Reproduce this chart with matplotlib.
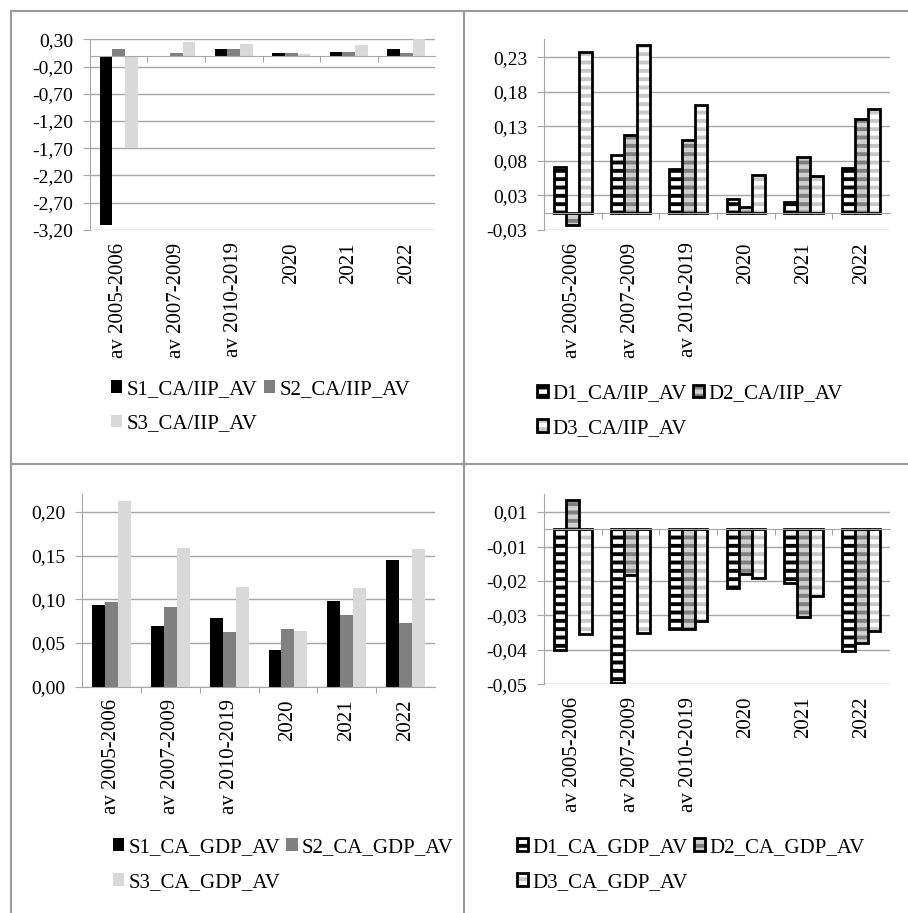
import numpy as np
import matplotlib
matplotlib.use("Agg")
import matplotlib.pyplot as plt
from matplotlib.lines import Line2D
from matplotlib.legend_handler import HandlerTuple

plt.rcParams['font.family'] = ['Liberation Serif', 'DejaVu Serif']
plt.rcParams['hatch.linewidth'] = 2.8

# categories shared by all four panels
categories = ["av 2005-2006", "av 2007-2009", "av 2010-2019", "2020", "2021", "2022"]

# top left: S series, CA/IIP
s_iip_labels = ["S1_CA/IIP_AV", "S2_CA/IIP_AV", "S3_CA/IIP_AV"]
s1_iip = [-3.10, -0.03, 0.115, 0.04, 0.07, 0.115]
s2_iip = [0.115, 0.04, 0.115, 0.04, 0.07, 0.04]
s3_iip = [-1.69, 0.255, 0.21, 0.03, 0.19, 0.30]
tl_yticks = [0.30, -0.20, -0.70, -1.20, -1.70, -2.20, -2.70, -3.20]
tl_ylabels = ["0,30", "-0,20", "-0,70", "-1,20", "-1,70", "-2,20", "-2,70", "-3,20"]

# top right: D series, CA/IIP
d_iip_labels = ["D1_CA/IIP_AV", "D2_CA/IIP_AV", "D3_CA/IIP_AV"]
d1_iip = [0.066, 0.083, 0.063, 0.020, 0.015, 0.065]
d2_iip = [-0.018, 0.112, 0.105, 0.008, 0.081, 0.136]
d3_iip = [0.232, 0.242, 0.156, 0.055, 0.053, 0.150]
tr_yticks = [-0.025, 0.025, 0.075, 0.125, 0.175, 0.225]
tr_ylabels = ["-0,03", "0,03", "0,08", "0,13", "0,18", "0,23"]

# bottom left: S series, CA/GDP
s_gdp_labels = ["S1_CA_GDP_AV", "S2_CA_GDP_AV", "S3_CA_GDP_AV"]
s1_gdp = [0.094, 0.070, 0.079, 0.042, 0.098, 0.145]
s2_gdp = [0.097, 0.091, 0.063, 0.066, 0.082, 0.073]
s3_gdp = [0.213, 0.159, 0.114, 0.064, 0.113, 0.157]
bl_yticks = [0.00, 0.05, 0.10, 0.15, 0.20]
bl_ylabels = ["0,00", "0,05", "0,10", "0,15", "0,20"]

# bottom right: D series, CA/GDP
d_gdp_labels = ["D1_CA_GDP_AV", "D2_CA_GDP_AV", "D3_CA_GDP_AV"]
d1_gdp = [-0.0350, -0.0446, -0.0289, -0.0171, -0.0155, -0.0354]
d2_gdp = [0.0085, -0.0134, -0.0289, -0.0129, -0.0255, -0.0331]
d3_gdp = [-0.0304, -0.0302, -0.0267, -0.0140, -0.0195, -0.0294]
br_yticks = [-0.045, -0.035, -0.025, -0.015, -0.005, 0.005]
br_ylabels = ["-0,05", "-0,04", "-0,03", "-0,02", "-0,01", "0,01"]

GRID = '#a6a6a6'
W = 0.22
x = np.arange(len(categories))
offsets = [-W, 0, W]

s_colors = ['#000000', '#808080', '#d9d9d9']
d_faces = ['#ffffff', '#d0d0d0', '#ffffff']
d_hatch = ['#000000', '#7f7f7f', '#c8c8c8']

fig = plt.figure(figsize=(9.08, 9.13), dpi=100)


def setup(rect, ylim, yticks, ylabels):
    ax = fig.add_axes(rect)
    ax.set_xlim(-0.5, len(categories) - 0.5)
    ax.set_ylim(*ylim)
    for s in ['top', 'right']:
        ax.spines[s].set_visible(False)
    ax.spines['left'].set_color(GRID)
    ax.spines['bottom'].set_color(GRID)
    ax.spines['bottom'].set_position(('data', 0))
    ax.set_yticks(yticks, labels=ylabels)
    ax.yaxis.grid(True, color=GRID, linewidth=1)
    ax.set_axisbelow(True)
    ax.tick_params(axis='y', length=5, color=GRID, pad=7, labelsize=14)
    ax.set_xticks(np.arange(0.5, len(categories) - 0.5), labels=[])
    ax.tick_params(axis='x', length=4, color=GRID, direction='out')
    # category labels along the bottom edge
    sec = ax.secondary_xaxis('bottom')
    sec.spines['bottom'].set_visible(False)
    sec.set_xticks(x, labels=categories, rotation=90, fontsize=15)
    sec.tick_params(length=0, pad=9)
    return ax


def s_bars(ax, series):
    handles = []
    for i, vals in enumerate(series):
        b = ax.bar(x + offsets[i], vals, W, color=s_colors[i], linewidth=0)
        handles.append(b.patches[0])
    return handles


def d_bars(ax, series):
    handles = []
    for i, vals in enumerate(series):
        f = ax.bar(x + offsets[i], vals, W, color=d_faces[i], edgecolor=d_hatch[i],
                   hatch='--', linewidth=0)
        o = ax.bar(x + offsets[i], vals, W, fill=False, edgecolor='black', linewidth=2)
        handles.append((f.patches[0], o.patches[0]))
    return handles


def legend(handles, labels, left, top):
    # legend fills columns first, so reorder to get S1 S2 / S3 rows
    order = [0, 2, 1]
    fig.legend([handles[i] for i in order], [labels[i] for i in order], ncol=2,
               loc='upper left', bbox_to_anchor=(left, top),
               frameon=False, fontsize=15, handlelength=0.55, handleheight=0.55,
               handletextpad=0.2, columnspacing=0.3, labelspacing=0.75,
               borderpad=0, borderaxespad=0,
               handler_map={tuple: HandlerTuple(ndivide=1, pad=0)})


ax1 = setup([0.0991, 0.7481, 0.3800, 0.2089], (-3.2, 0.3), tl_yticks, tl_ylabels)
h = s_bars(ax1, [s1_iip, s2_iip, s3_iip])
legend(h, s_iip_labels, 0.122, 0.584)

ax2 = setup([0.5991, 0.7481, 0.3811, 0.2089], (-0.025, 0.251), tr_yticks, tr_ylabels)
h = d_bars(ax2, [d1_iip, d2_iip, d3_iip])
legend(h, d_iip_labels, 0.591, 0.579)

ax3 = setup([0.0903, 0.2479, 0.3888, 0.2111], (0, 0.2206), bl_yticks, bl_ylabels)
h = s_bars(ax3, [s1_gdp, s2_gdp, s3_gdp])
legend(h, s_gdp_labels, 0.124, 0.082)

ax4 = setup([0.5991, 0.2504, 0.3811, 0.2084], (-0.045, 0.0102), br_yticks, br_ylabels)
h = d_bars(ax4, [d1_gdp, d2_gdp, d3_gdp])
legend(h, d_gdp_labels, 0.569, 0.082)

# panel frame and dividers
for xs, ys in [([0.0116, 0.0116], [0, 0.988]), ([0.0116, 1], [0.988, 0.988]),
               ([0.5105, 0.5105], [0, 0.988]), ([0.0116, 1], [0.4923, 0.4923])]:
    fig.add_artist(Line2D(xs, ys, color='#999999', linewidth=1.5,
                          transform=fig.transFigure))

fig.savefig('out.png', dpi=100)
